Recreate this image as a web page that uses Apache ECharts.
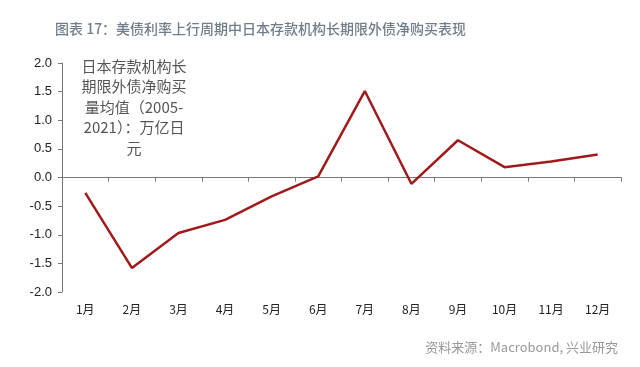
<!DOCTYPE html>
<html><head><meta charset="utf-8">
<script src="https://cdn.jsdelivr.net/npm/echarts@6/dist/echarts.min.js"></script>
<style>html,body{margin:0;padding:0;background:#fff}#c{width:640px;height:367px}</style>
</head><body><div id="c"></div>
<script>
const categories = ['1月','2月','3月','4月','5月','6月','7月','8月','9月','10月','11月','12月'];
const values = [-0.27, -1.58, -0.97, -0.74, -0.33, 0.02, 1.51, -0.11, 0.65, 0.18, 0.28, 0.40];
const titleText = '图表 17：美债利率上行周期中日本存款机构长期限外债净购买表现';
const noteText = '日本存款机构长\n期限外债净购买\n量均值（2005-\n2021）：万亿日\n元';
const sourceText = '资料来源：Macrobond, 兴业研究';

const chart = echarts.init(document.getElementById('c'));
chart.setOption({
  animation: false,
  backgroundColor: '#fff',
  title: {
    text: titleText, left: 50, top: 17,
    textStyle: {color: '#707d8b', fontSize: 14, fontWeight: 500, fontFamily: 'Noto Sans CJK SC'}
  },
  graphic: [
    {type: 'text', x: 134, y: 56, style: {text: noteText, fill: '#555', font: '15px "Noto Sans CJK SC"', lineHeight: 20.5, textAlign: 'center'}},
    {type: 'text', right: 22, top: 341, style: {text: sourceText, fill: '#999', font: '13px "Noto Sans CJK SC"'}}
  ],
  grid: {left: 62, right: 19, top: 63, bottom: 75},
  xAxis: [{
    type: 'category', data: categories, boundaryGap: true,
    axisLine: {onZero: true, lineStyle: {color: '#777', width: 1}},
    axisTick: {show: true, inside: false, length: 4, lineStyle: {color: '#777'}},
    axisLabel: {show: false}
  }, {
    type: 'category', data: categories, boundaryGap: true, position: 'bottom',
    axisLine: {show: false}, axisTick: {show: false},
    axisLabel: {color: '#222', fontSize: 12, fontFamily: 'Noto Sans CJK SC', margin: 11}
  }],
  yAxis: {
    type: 'value', min: -2, max: 2, interval: 0.5,
    axisLine: {show: true, lineStyle: {color: '#777'}},
    axisTick: {show: true, length: 4, lineStyle: {color: '#777'}},
    splitLine: {show: false},
    axisLabel: {color: '#222', fontSize: 13, fontFamily: 'Liberation Sans', margin: 10, formatter: v => v.toFixed(1)}
  },
  series: [
    {type: 'line', xAxisIndex: 0, data: values, symbol: 'none', lineStyle: {color: '#a01a1c', width: 2.5}}
  ]
});
</script></body></html>
